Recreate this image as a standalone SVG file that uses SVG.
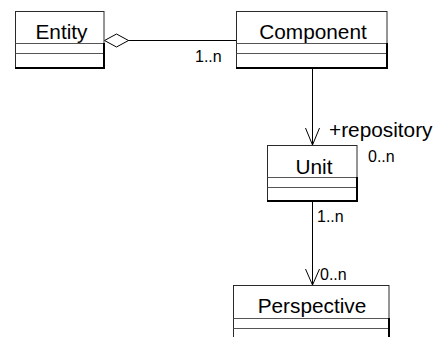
<svg xmlns="http://www.w3.org/2000/svg" width="438" height="337" viewBox="0 0 438 337">
  <style>
    .box { fill: #ffffff; stroke: #2a2a2a; stroke-width: 1; }
    .sep { stroke: #555555; stroke-width: 1; fill: none; }
    .edge { stroke: #000000; stroke-width: 2; fill: none; }
    .name { font-family: "Liberation Sans", Arial, sans-serif; font-size: 20.8px; fill: #000000; text-anchor: middle; }
    .mult { font-family: "Liberation Sans", Arial, sans-serif; font-size: 16px; fill: #000000; }
    .role { font-family: "Liberation Sans", Arial, sans-serif; font-size: 20.8px; fill: #000000; }
    .line { stroke: #000000; stroke-width: 1; fill: none; }
    .head { stroke: #000000; stroke-width: 1; fill: none; }
    .diamond { stroke: #000000; stroke-width: 1; fill: #ffffff; }
  </style>
  <rect width="438" height="337" fill="#ffffff"/>

  <!-- associations -->
  <g id="connectors">
    <line class="line" x1="128" y1="40.5" x2="236.5" y2="40.5"/>
    <polygon class="diamond" points="104.5,40.5 116.5,34 128.5,40.5 116.5,47"/>
    <text class="mult" x="195" y="62">1..n</text>

    <line class="line" x1="312.5" y1="68" x2="312.5" y2="145"/>
    <polyline class="head" points="305.5,128 312.5,145 319.5,128"/>
    <text class="role" x="329" y="137">+repository</text>
    <text class="mult" x="368" y="162">0..n</text>

    <line class="line" x1="312.5" y1="201" x2="312.5" y2="285"/>
    <polyline class="head" points="305.5,269 312.5,285 319.5,269"/>
    <text class="mult" x="317" y="222">1..n</text>
    <text class="mult" x="320" y="280">0..n</text>
  </g>

  <g id="entity">
    <rect class="box" x="15.5" y="11.5" width="88.5" height="56.5"/>
    <line class="sep" x1="15.5" y1="43.5" x2="104" y2="43.5"/>
    <line class="sep" x1="15.5" y1="53.5" x2="104" y2="53.5"/>
    <polyline class="edge" points="104,43 104,68 15,68"/>
    <text class="name" x="61.5" y="38.5">Entity</text>
  </g>

  <g id="component">
    <rect class="box" x="236.5" y="11.5" width="150.5" height="56.5"/>
    <line class="sep" x1="236.5" y1="43.5" x2="387" y2="43.5"/>
    <line class="sep" x1="236.5" y1="53.5" x2="387" y2="53.5"/>
    <polyline class="edge" points="387,43 387,68 236,68"/>
    <text class="name" x="313" y="38.5">Component</text>
  </g>

  <g id="unit">
    <rect class="box" x="267.5" y="145.5" width="89.5" height="55.5"/>
    <line class="sep" x1="267.5" y1="177.5" x2="357" y2="177.5"/>
    <line class="sep" x1="267.5" y1="187.5" x2="357" y2="187.5"/>
    <polyline class="edge" points="357,177 357,201 267,201"/>
    <text class="name" x="314" y="173.5">Unit</text>
  </g>

  <g id="perspective">
    <rect class="box" x="233.5" y="285.5" width="155.5" height="60"/>
    <line class="sep" x1="233.5" y1="318.5" x2="389" y2="318.5"/>
    <line class="sep" x1="233.5" y1="328.5" x2="389" y2="328.5"/>
    <polyline class="edge" points="389,318 389,346"/>
    <text class="name" x="312" y="312.5">Perspective</text>
  </g>
</svg>
